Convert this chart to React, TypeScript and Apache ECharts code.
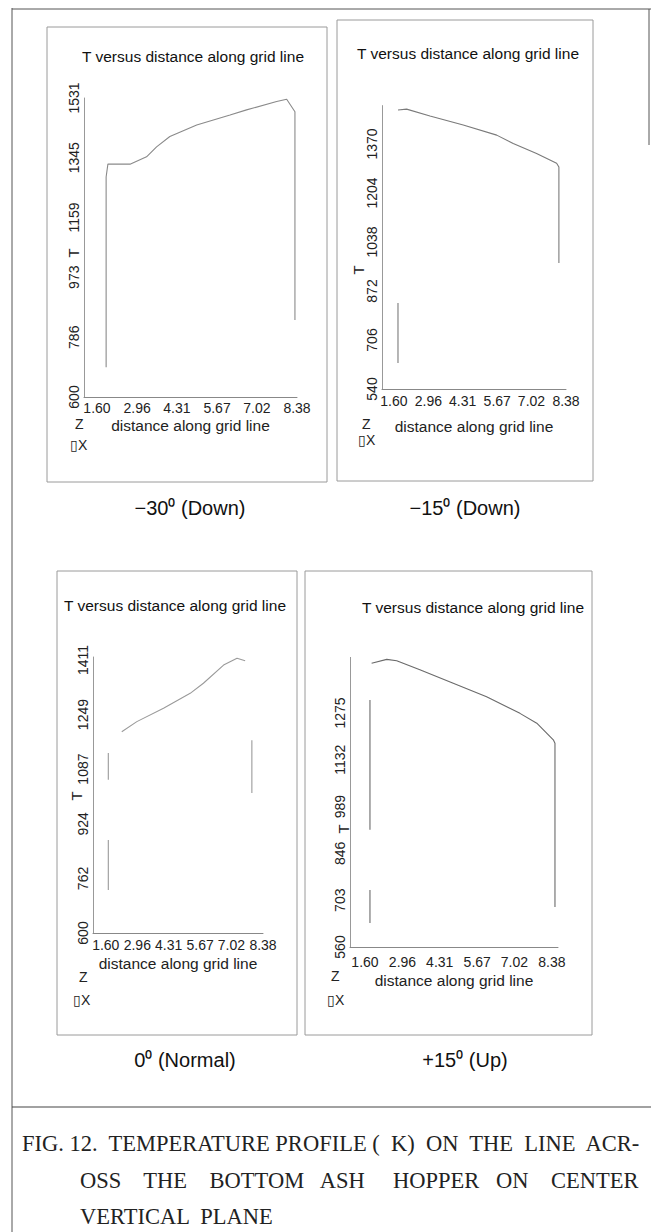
import React, { useEffect, useRef } from "react";
import * as echarts from "echarts";

// ---------- data ----------
const xTicks = [1.6, 2.96, 4.31, 5.67, 7.02, 8.38];

const p1YTicks = [600, 786, 973, 1159, 1345, 1531];
const p2YTicks = [540, 706, 872, 1038, 1204, 1370];
const p3YTicks = [600, 762, 924, 1087, 1249, 1411];
const p4YTicks = [560, 703, 846, 989, 1132, 1275];

// -30 deg (Down)
const p1X = [1.91, 1.91, 1.97, 2.72, 3.28, 3.62, 4.07, 4.98, 6.11, 6.67, 7.69, 8.03, 8.31, 8.31];
const p1T = [693, 1285, 1325, 1325, 1348, 1379, 1411, 1447, 1478, 1494, 1520, 1527, 1488, 840];

// -15 deg (Down)  (null = gap in the scanned line)
const p2X = [1.76, 1.76, 1.76, 1.76, 2.1, 3.02, 4.33, 5.65, 6.3, 7.22, 8.01, 8.1, 8.1];
const p2T = [628, 831, null, 1485, 1488, 1465, 1434, 1400, 1372, 1338, 1305, 1292, 967];

// 0 deg (Normal)
const p3X = [1.71, 1.71, 1.71, 1.71, 1.71, 1.71, 2.29, 2.94, 4.09, 5.24, 5.81, 6.68, 7.26, 7.61, 7.61, 7.9, 7.9];
const p3T = [728, 876, null, 1055, 1135, null, 1198, 1228, 1268, 1312, 1342, 1396, 1416, 1409, null, 1173, 1016];

// +15 deg (Up)
const p4X = [1.78, 1.78, 1.78, 1.78, 1.78, 1.78, 1.84, 2.39, 2.75, 3.59, 4.8, 6.01, 7.22, 7.83, 8.43, 8.49, 8.49];
const p4T = [633, 734, null, 918, 1315, null, 1427, 1439, 1435, 1407, 1366, 1325, 1274, 1244, 1193, 1183, 682];

const panelCaptions = ["\u221230\u2070 (Down)", "\u221215\u2070 (Down)", "0\u2070 (Normal)", "+15\u2070 (Up)"];
const plotTitle = "T versus distance along grid line";
const xName = "distance along grid line";
const yName = "T";
const captionLines = [
  "FIG. 12.  TEMPERATURE PROFILE (  K)  ON  THE  LINE  ACR-",
  "OSS    THE    BOTTOM   ASH     HOPPER   ON    CENTER",
  "VERTICAL  PLANE",
];

const SANS = "Liberation Sans, Arial, sans-serif";
const SERIF = "Liberation Serif, Times New Roman, serif";

type Panel = {
  left: number; top: number; width: number; height: number;
  xMin: number; xMax: number; yMin: number; yMax: number;
  yTicks: number[]; xs: number[]; ts: (number | null)[];
  xNameGap: number; xLabelMargin: number; color: string;
};

const panels: Panel[] = [
  { left: 84, top: 98, width: 213, height: 299, xMin: 1.16, xMax: 8.38, yMin: 600, yMax: 1531,
    yTicks: p1YTicks, xs: p1X, ts: p1T, xNameGap: 20, xLabelMargin: 4, color: "#8a8a8a" },
  { left: 382, top: 105.6, width: 184, height: 283.4, xMin: 1.13, xMax: 8.38, yMin: 540, yMax: 1500,
    yTicks: p2YTicks, xs: p2X, ts: p2T, xNameGap: 29, xLabelMargin: 5, color: "#7a7a7a" },
  { left: 93, top: 657, width: 170, height: 276, xMin: 1.05, xMax: 8.38, yMin: 600, yMax: 1420,
    yTicks: p3YTicks, xs: p3X, ts: p3T, xNameGap: 22, xLabelMargin: 5, color: "#9a9a9a" },
  { left: 350, top: 657.4, width: 208, height: 289.6, xMin: 1.056, xMax: 8.6, yMin: 560, yMax: 1445,
    yTicks: p4YTicks, xs: p4X, ts: p4T, xNameGap: 25, xLabelMargin: 8, color: "#6a6a6a" },
];

// frames and text positions (layout)
const frames = [
  { x: 47, y: 27, w: 280, h: 455 },
  { x: 337, y: 20, w: 256, h: 461 },
  { x: 57, y: 571, w: 240, h: 464 },
  { x: 305, y: 571, w: 287, h: 464 },
];
const titlePos = [[193, 56], [468, 53], [175, 605], [473, 607]];
const tNamePos = [[73, 253], [358, 270], [76, 796], [343, 829]];
const zPos = [[75, 424], [362, 424], [79, 977], [331, 976]];
const axPos = [[70, 445], [358, 440], [73, 1000], [327, 1000]];
const capPos = [[190, 508], [465, 508], [185, 1060], [465, 1060]];

export default function App() {
  const ref = useRef<HTMLDivElement>(null);
  useEffect(() => {
    if (!ref.current) return;
    const chart = echarts.init(ref.current, null, { renderer: "svg" });

    const grids = panels.map((p) => ({ left: p.left, top: p.top, width: p.width, height: p.height, outerBoundsMode: "none", containLabel: false }));
    const xAxes = panels.map((p, i) => ({
      type: "value", gridIndex: i, min: p.xMin, max: p.xMax,
      name: xName, nameLocation: "middle", nameGap: p.xNameGap, nameMoveOverlap: false,
      nameTextStyle: { fontFamily: SANS, fontSize: 15.5, color: "#222" },
      axisLine: { show: true, lineStyle: { color: "#888", width: 1 } },
      axisTick: { show: false },
      splitLine: { show: false },
      axisLabel: {
        customValues: xTicks, margin: p.xLabelMargin, fontFamily: SANS, fontSize: 14, color: "#222",
        formatter: (v: number) => v.toFixed(2),
      },
    }));
    const yAxes = panels.map((p, i) => ({
      type: "value", gridIndex: i, min: p.yMin, max: p.yMax,
      axisLine: { show: true, lineStyle: { color: "#999", width: 1 } },
      axisTick: { show: false },
      splitLine: { show: false },
      axisLabel: {
        customValues: p.yTicks, rotate: 90, margin: 3, fontFamily: SANS, fontSize: 14, color: "#222",
        formatter: (v: number) => String(Math.round(v)),
      },
    }));
    const series = panels.map((p, i) => ({
      type: "line", xAxisIndex: i, yAxisIndex: i, showSymbol: false, symbol: "none",
      connectNulls: false, smooth: false,
      lineStyle: { color: p.color, width: 1.1 },
      data: p.xs.map((x, k) => [x, p.ts[k] === null ? "-" : p.ts[k]]),
    }));

    const graphic: any[] = [];
    // outer frame
    graphic.push({ type: "line", shape: { x1: 12, y1: 8, x2: 12, y2: 1232 }, style: { stroke: "#555", lineWidth: 1 } });
    graphic.push({ type: "line", shape: { x1: 12, y1: 9, x2: 651, y2: 9 }, style: { stroke: "#555", lineWidth: 1 } });
    graphic.push({ type: "line", shape: { x1: 649, y1: 9, x2: 649, y2: 145 }, style: { stroke: "#555", lineWidth: 1 } });
    graphic.push({ type: "line", shape: { x1: 12, y1: 1107, x2: 651, y2: 1107 }, style: { stroke: "#444", lineWidth: 1.2 } });
    frames.forEach((f) => {
      graphic.push({ type: "rect", shape: { x: f.x, y: f.y, width: f.w, height: f.h }, style: { fill: "none", stroke: "#9a9a9a", lineWidth: 1 } });
    });
    panels.forEach((_, i) => {
      graphic.push({ type: "text", x: titlePos[i][0], y: titlePos[i][1], style: { text: plotTitle, font: `15.5px ${SANS}`, fill: "#111", textAlign: "center", textVerticalAlign: "middle" } });
      graphic.push({ type: "text", x: tNamePos[i][0], y: tNamePos[i][1], rotation: Math.PI / 2, style: { text: yName, font: `15px ${SANS}`, fill: "#222", textAlign: "center", textVerticalAlign: "middle" } });
      graphic.push({ type: "text", x: zPos[i][0], y: zPos[i][1], style: { text: "Z", font: `14px ${SANS}`, fill: "#222", textAlign: "left", textVerticalAlign: "middle" } });
      graphic.push({ type: "text", x: axPos[i][0], y: axPos[i][1], style: { text: "\u25AFX", font: `14px ${SANS}`, fill: "#222", textAlign: "left", textVerticalAlign: "middle" } });
      graphic.push({ type: "text", x: capPos[i][0], y: capPos[i][1], style: { text: panelCaptions[i], font: `20px ${SANS}`, fill: "#111", textAlign: "center", textVerticalAlign: "middle" } });
    });
    const capX = [22, 80, 80];
    const capY = [1143, 1180, 1216];
    captionLines.forEach((t, i) => {
      graphic.push({ type: "text", x: capX[i], y: capY[i], style: { text: t, font: `22.5px ${SERIF}`, fill: "#222", textAlign: "left", textVerticalAlign: "middle" } });
    });

    chart.setOption({
      animation: false,
      backgroundColor: "#ffffff",
      grid: grids,
      xAxis: xAxes,
      yAxis: yAxes,
      series,
      graphic,
    });
    return () => chart.dispose();
  }, []);
  return <div ref={ref} style={{ position: "absolute", left: 0, top: 0, width: 651, height: 1232 }} />;
}
